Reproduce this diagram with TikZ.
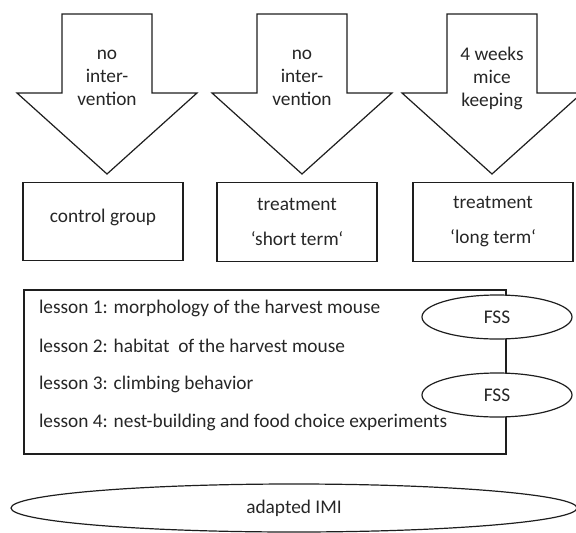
\documentclass[tikz,border=0pt]{standalone}
\usepackage{fontspec}
\setmainfont{Carlito}
\usetikzlibrary{shapes.geometric}
\definecolor{StudyLine}{HTML}{1E1E1E}
\definecolor{StudyText}{HTML}{262626}

\begin{document}
\begin{tikzpicture}[x=0.75pt,y=-0.75pt,line width=0.9pt,
    every node/.style={text=StudyText,font=\fontsize{14.5}{17.25}\selectfont},
    groupbox/.style={draw=StudyLine,align=center,inner sep=0pt,minimum width=120pt,minimum height=59pt},
    fssoval/.style={draw=StudyLine,fill=white,ellipse,inner sep=0pt,minimum width=112.5pt,minimum height=33pt}]
  \useasboundingbox (0,0) rectangle (576,533);
  \clip (0,0) rectangle (576,533);
  % block arrows with their text
  \foreach \cx/\name/\txt in {107/armA/{no\\inter-\\vention},302/armB/{no\\inter-\\vention},492/armC/{4 weeks\\mice\\keeping}}{
    \draw[StudyLine,fill=white] (\cx-45,14) -- (\cx+45,14) -- (\cx+45,93) -- (\cx+90,93)
      -- (\cx,174) -- (\cx-90,93) -- (\cx-45,93) -- cycle;
    \node[align=center] (\name) at (\cx,78) {\txt};
  }
  % groups
  \node[groupbox] (ctrl) at (103,221.5) {control group\\[-8pt]\mbox{}};
  \node[groupbox] (short) at (297,222) {treatment\\[9pt]‘short term‘};
  \node[groupbox] (long) at (493,222) {treatment\\[9pt]‘long term‘};
  % lessons
  \node[draw=StudyLine,inner sep=0pt,minimum width=361.5pt,minimum height=123pt] (lessons) at (265,372) {};
  \node[anchor=west] (les1) at (34,308) {lesson 1: morphology of the harvest mouse};
  \node[anchor=west] (les2) at (34,346) {lesson 2: habitat~ of the harvest mouse};
  \node[anchor=west] (les3) at (34,384) {lesson 3: climbing behavior};
  \node[anchor=west] (les4) at (34,422) {lesson 4: nest-building and food choice experiments};
  \node[fssoval] (fssA) at (497,317) {FSS};
  \node[fssoval] (fssB) at (497,395) {FSS};
  % questionnaire
  \node[draw=StudyLine,ellipse,inner sep=0pt,minimum width=424.5pt,minimum height=36pt] (imi) at (294,508) {adapted IMI};
\end{tikzpicture}
\end{document}
